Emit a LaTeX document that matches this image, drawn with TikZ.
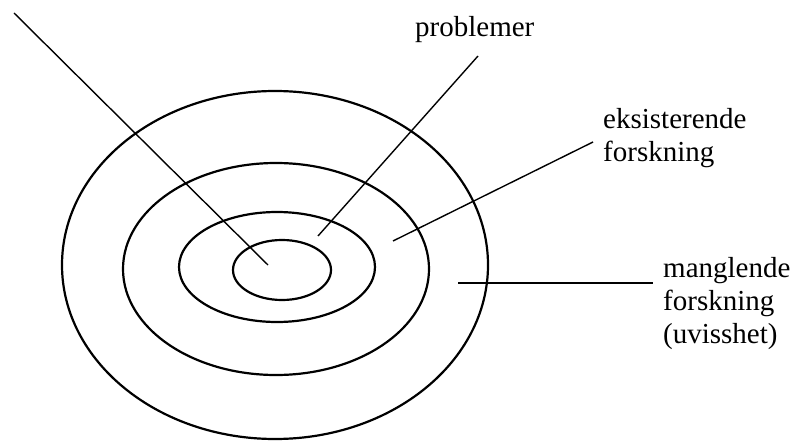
\documentclass[tikz,border=0pt]{standalone}
\usepackage{fontspec}
\setmainfont{Liberation Serif}
\begin{document}
\begin{tikzpicture}
  [x=1pt,y=-1pt,every node/.style={inner sep=0pt,anchor=base west,align=left,font=\fontsize{29}{33}\selectfont}]
  \useasboundingbox (0,0) rectangle (792,441);

  % rings
  \draw[line width=2.2pt] (275,265) ellipse [x radius=213, y radius=174];
  \draw[line width=2.2pt] (276,269) ellipse [x radius=153, y radius=106];
  \draw[line width=2.2pt] (277,267) ellipse [x radius=98, y radius=55];
  \draw[line width=2.2pt] (282,270) ellipse [x radius=49, y radius=30];

  % base anchor sits on the last line
  \node (t1) at (415,37)  {problemer};
  \node (t2) at (603,161) {eksisterende\\forskning};
  \node (t3) at (663,343) {manglende\\forskning\\(uvisshet)};

  \coordinate (a1) at (14,13);
  \coordinate (a2) at (268,265);
  \coordinate (b1) at (478,56);
  \coordinate (b2) at (318,236);
  \coordinate (c1) at (593,142);
  \coordinate (c2) at (393,241);
  \coordinate (d1) at (458,283);
  \coordinate (d2) at (653,283);

   \foreach \from/\to in {a1/a2,b1/b2,c1/c2}
      \draw[line width=1.4pt] (\from) -- (\to);

   \draw[line width=2.4pt] (d1) -- (d2);

\end{tikzpicture}
\end{document}
